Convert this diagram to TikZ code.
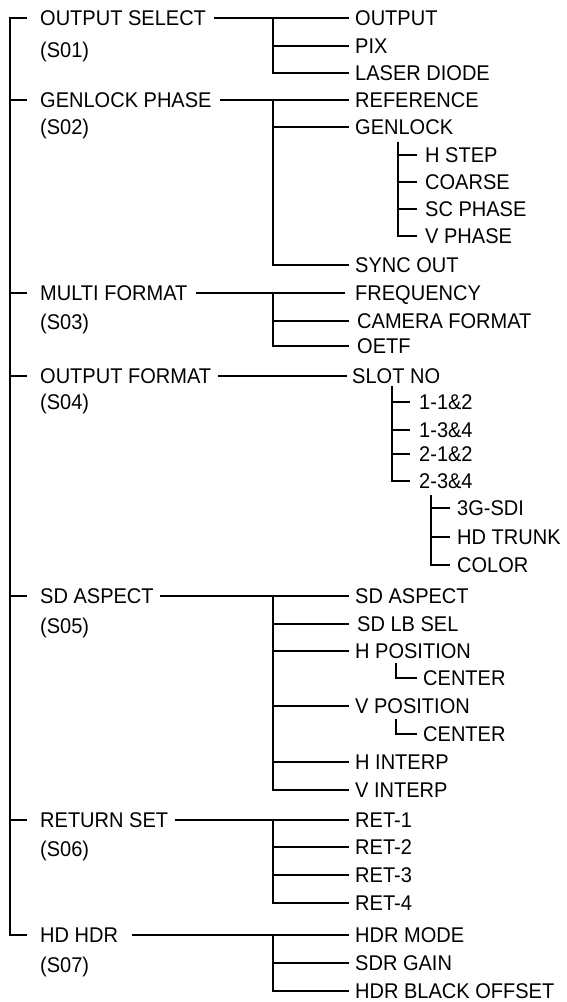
\documentclass[tikz,border=0pt]{standalone}
\usepackage{fontspec}
\setmainfont[FakeStretch=0.94]{Liberation Sans}
\begin{document}
\begin{tikzpicture}[x=1pt,y=-1pt,
  lbl/.style={anchor=west, inner sep=0pt, text height=15.2pt, text depth=0pt, font=\fontsize{21.3}{25}\selectfont},
  ln/.style={line width=1.1pt, black}]
\useasboundingbox (0,0) rectangle (566,1002);
% ---------- level 1 ----------
\node[lbl] (s1) at (40,18) {OUTPUT SELECT};
\node[lbl] (s1c) at (40,50) {(S01)};
\node[lbl] (s2) at (40,100) {GENLOCK PHASE};
\node[lbl] (s2c) at (40,127) {(S02)};
\node[lbl] (s3) at (40,293) {MULTI FORMAT};
\node[lbl] (s3c) at (40,322) {(S03)};
\node[lbl] (s4) at (40,376) {OUTPUT FORMAT};
\node[lbl] (s4c) at (40,402) {(S04)};
\node[lbl] (s5) at (40,596) {SD ASPECT};
\node[lbl] (s5c) at (40,626) {(S05)};
\node[lbl] (s6) at (40,820) {RETURN SET};
\node[lbl] (s6c) at (40,849) {(S06)};
\node[lbl] (s7) at (40,935) {HD HDR};
\node[lbl] (s7c) at (40,965) {(S07)};
\coordinate (M) at (10,0);
\draw[ln] ([xshift=-13pt]s1.west) -| (M |- s7.west) -- ([xshift=-13pt]s7.west);
\foreach \n in {s2,s3,s4,s5,s6} \draw[ln] (M |- \n.west) -- ([xshift=-13pt]\n.west);
\coordinate (B) at (273,0);
% ---------- S01 ----------
\node[lbl] (a1) at (355,18) {OUTPUT};
\node[lbl] (a2) at (355,46) {PIX};
\node[lbl] (a3) at (355,73) {LASER DIODE};
\draw[ln] ([xshift=8pt]s1.east) -- ([xshift=-6pt]a1.west);
\draw[ln] (B |- a1.west) |- ([xshift=-6pt]a3.west);
\draw[ln] (B |- a2.west) -- ([xshift=-6pt]a2.west);
% ---------- S02 ----------
\node[lbl] (b1) at (355,100) {REFERENCE};
\node[lbl] (b2) at (355,127) {GENLOCK};
\node[lbl] (b3) at (355,265) {SYNC OUT};
\draw[ln] ([xshift=8pt]s2.east) -- ([xshift=-6pt]b1.west);
\draw[ln] (B |- b1.west) |- ([xshift=-6pt]b3.west);
\draw[ln] (B |- b2.west) -- ([xshift=-6pt]b2.west);
\node[lbl] (g1) at (425,155) {H STEP};
\node[lbl] (g2) at (425,182) {COARSE};
\node[lbl] (g3) at (425,209) {SC PHASE};
\node[lbl] (g4) at (425,236) {V PHASE};
\coordinate (G) at (398,142);
\draw[ln] (G) |- ([xshift=-8pt]g4.west);
\foreach \n in {g1,g2,g3} \draw[ln] (G |- \n.west) -- ([xshift=-8pt]\n.west);
% ---------- S03 ----------
\node[lbl] (c1) at (355,293) {FREQUENCY};
\node[lbl] (c2) at (357,321) {CAMERA FORMAT};
\node[lbl] (c3) at (357,346) {OETF};
\draw[ln] ([xshift=8pt]s3.east) -- ([xshift=-10pt]c1.west);
\draw[ln] (B |- s3.west) |- ([xshift=-8pt]c3.west);
\draw[ln] (B |- c2.west) -- ([xshift=-8pt]c2.west);
% ---------- S04 ----------
\node[lbl] (d1) at (352,376) {SLOT NO};
\draw[ln] ([xshift=7pt]s4.east) -- ([xshift=-5pt]d1.west);
\node[lbl] (e1) at (419,402) {1-1\&2};
\node[lbl] (e2) at (419,430) {1-3\&4};
\node[lbl] (e3) at (419,454) {2-1\&2};
\node[lbl] (e4) at (419,481) {2-3\&4};
\coordinate (E) at (392,386);
\draw[ln] (E) |- ([xshift=-9pt]e4.west);
\foreach \n in {e1,e2,e3} \draw[ln] (E |- \n.west) -- ([xshift=-9pt]\n.west);
\node[lbl] (f1) at (457,508) {3G-SDI};
\node[lbl] (f2) at (457,537) {HD TRUNK};
\node[lbl] (f3) at (457,565) {COLOR};
\coordinate (F) at (431,495);
\draw[ln] (F) |- ([xshift=-7pt]f3.west);
\foreach \n in {f1,f2} \draw[ln] (F |- \n.west) -- ([xshift=-7pt]\n.west);
% ---------- S05 ----------
\node[lbl] (h1) at (355,596) {SD ASPECT};
\node[lbl] (h2) at (357,624) {SD LB SEL};
\node[lbl] (h3) at (355,651) {H POSITION};
\node[lbl] (h4) at (423,678) {CENTER};
\node[lbl] (h5) at (355,706) {V POSITION};
\node[lbl] (h6) at (423,734) {CENTER};
\node[lbl] (h7) at (355,762) {H INTERP};
\node[lbl] (h8) at (355,790) {V INTERP};
\draw[ln] ([xshift=6pt]s5.east) -- ([xshift=-6pt]h1.west);
\draw[ln] (B |- h1.west) |- ([xshift=-6pt]h8.west);
\foreach \n in {h3,h5,h7} \draw[ln] (B |- \n.west) -- ([xshift=-6pt]\n.west);
\draw[ln] (B |- h2.west) -- ([xshift=-8pt]h2.west);
\coordinate (H1) at (396,663);
\coordinate (H2) at (396,719);
\draw[ln] (H1) |- ([xshift=-6pt]h4.west);
\draw[ln] (H2) |- ([xshift=-6pt]h6.west);
% ---------- S06 ----------
\node[lbl] (r1) at (355,820) {RET-1};
\node[lbl] (r2) at (355,847) {RET-2};
\node[lbl] (r3) at (355,875) {RET-3};
\node[lbl] (r4) at (355,903) {RET-4};
\draw[ln] ([xshift=7pt]s6.east) -- ([xshift=-6pt]r1.west);
\draw[ln] (B |- r1.west) |- ([xshift=-6pt]r4.west);
\foreach \n in {r2,r3} \draw[ln] (B |- \n.west) -- ([xshift=-6pt]\n.west);
% ---------- S07 ----------
\node[lbl] (k1) at (355,935) {HDR MODE};
\node[lbl] (k2) at (355,963) {SDR GAIN};
\node[lbl] (k3) at (355,991) {HDR BLACK OFFSET};
\draw[ln] ([xshift=14pt]s7.east) -- ([xshift=-6pt]k1.west);
\draw[ln] (B |- k1.west) |- ([xshift=-6pt]k3.west);
\draw[ln] (B |- k2.west) -- ([xshift=-6pt]k2.west);
\end{tikzpicture}
\end{document}
